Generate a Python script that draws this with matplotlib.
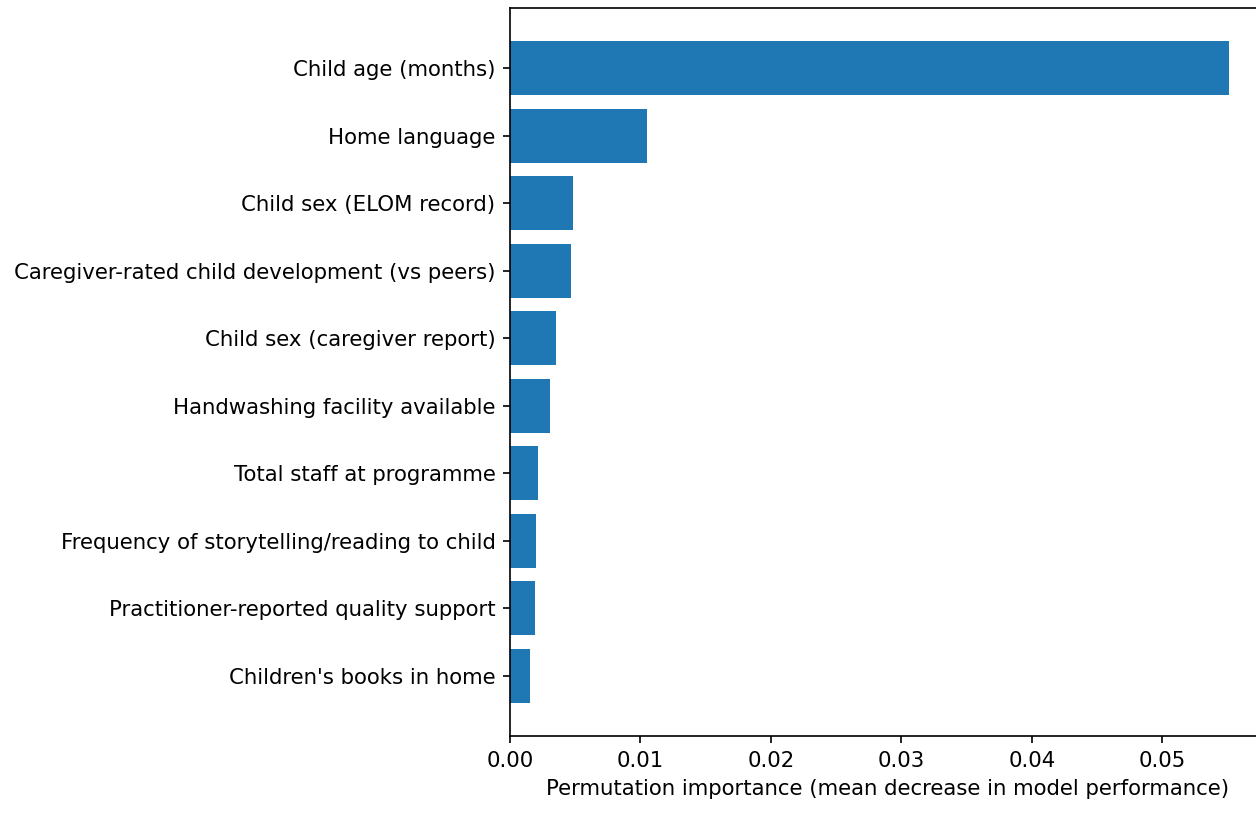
import matplotlib
matplotlib.use("Agg")
import matplotlib.pyplot as plt

features = [
    "Child age (months)",
    "Home language",
    "Child sex (ELOM record)",
    "Caregiver-rated child development (vs peers)",
    "Child sex (caregiver report)",
    "Handwashing facility available",
    "Total staff at programme",
    "Frequency of storytelling/reading to child",
    "Practitioner-reported quality support",
    "Children's books in home",
]
importance = [0.0551, 0.0105, 0.00483, 0.00465, 0.0035, 0.00309,
              0.00215, 0.00202, 0.00189, 0.00151]

plt.rcParams["font.size"] = 10.2

W, H, DPI = 1256, 813, 150
fig = plt.figure(figsize=(W / DPI, H / DPI), dpi=DPI)
ax = fig.add_axes([510 / W, (H - 736) / H, 755 / W, 728 / H])

ax.barh(features[::-1], importance[::-1], color="#1f77b4")
ax.set_xlabel("Permutation importance (mean decrease in model performance)")

fig.savefig("out.png", dpi=DPI)
